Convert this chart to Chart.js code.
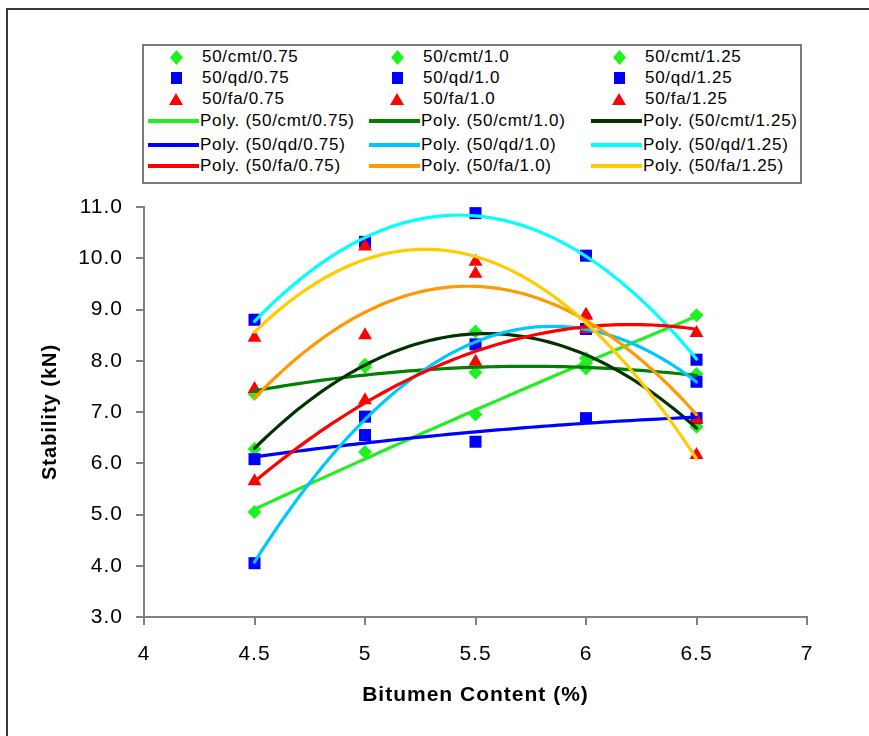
<!DOCTYPE html>
<html>
<head>
<meta charset="utf-8">
<script src="https://cdn.jsdelivr.net/npm/chart.js@4/dist/chart.umd.min.js"></script>
<style>
  html, body { margin: 0; padding: 0; background: #fff; }
  #wrap { position: relative; width: 869px; height: 736px; overflow: hidden; background: #fff; }
  #frame { position: absolute; left: 6px; top: 8px; width: 900px; height: 800px; border: 2px solid #3a3a3a; box-sizing: border-box; }
  #c { position: absolute; left: 0; top: 0; }
  #legend { position: absolute; left: 142px; top: 44px; width: 660px; height: 140px; border: 2px solid #7a7a7a; box-sizing: border-box; background: #fff;
            font-family: "Liberation Sans", Arial, sans-serif; font-size: 17px; letter-spacing: 0.7px; color: #000; }
  .lg-text { position: absolute; white-space: nowrap; line-height: 18px; height: 18px; }
  .lg-mark { position: absolute; }
  .lg-line { position: absolute; height: 4px; }
</style>
</head>
<body>
<div id="wrap">
  <div id="frame"></div>
  <canvas id="c" width="869" height="736"></canvas>
  <div id="legend"></div>
</div>
<script>
// Bitumen content (%) at which specimens were tested
const bitumenContent = [4.5, 5.0, 5.5, 6.0, 6.5];

// Marshall stability (kN) per mix
const stabilityCmt075 = [5.05, 6.22, 6.95, 7.95, 8.89];
const stabilityCmt100 = [7.35, 7.88, 7.77, 7.85, 7.74];
const stabilityCmt125 = [6.28, 7.92, 8.57, 8.05, 6.71];
const stabilityQd075  = [6.08, 6.55, 6.42, 6.88, 6.88];
const stabilityQd100  = [4.05, 6.91, 8.32, 8.62, 7.59];
const stabilityQd125  = [8.80, 10.32, 10.88, 10.05, 8.02];
const stabilityFa075  = [5.65, 7.23, 7.98, 8.88, 8.54];
const stabilityFa100  = [7.45, 8.50, 9.70, 8.90, 6.85];
const stabilityFa125  = [8.45, 10.23, 9.93, 8.62, 6.16];

const seriesNames = ['50/cmt/0.75', '50/cmt/1.0', '50/cmt/1.25',
                     '50/qd/0.75', '50/qd/1.0', '50/qd/1.25',
                     '50/fa/0.75', '50/fa/1.0', '50/fa/1.25'];
const seriesValues = [stabilityCmt075, stabilityCmt100, stabilityCmt125,
                      stabilityQd075, stabilityQd100, stabilityQd125,
                      stabilityFa075, stabilityFa100, stabilityFa125];

// Axis ranges and tick steps
const xMin = 4, xMax = 7, xStep = 0.5;
const yMin = 3, yMax = 11, yStep = 1;

// Styling per filler type
const markerKinds = ['diamond', 'diamond', 'diamond', 'square', 'square', 'square', 'triangle', 'triangle', 'triangle'];
const markerColors = { diamond: '#20f020', square: '#0000ff', triangle: '#ff0000' };
const markerChartStyle = { diamond: ['rectRot', 7], square: ['rect', 8.5], triangle: ['triangle', 8] };
const trendColors = ['#22ee22', '#007f00', '#003300', '#0000ff', '#00c8ff', '#00ffff', '#ff0000', '#ff9900', '#ffcc00'];

// Second-order least-squares fit (Excel "Poly." trendline)
function polyFit2(xs, ys) {
  let s = [0, 0, 0, 0, 0], t = [0, 0, 0];
  for (let i = 0; i < xs.length; i++) {
    let p = 1;
    for (let k = 0; k < 5; k++) { s[k] += p; if (k < 3) t[k] += p * ys[i]; p *= xs[i]; }
  }
  const A = [[s[0], s[1], s[2], t[0]], [s[1], s[2], s[3], t[1]], [s[2], s[3], s[4], t[2]]];
  for (let c = 0; c < 3; c++) {
    for (let r = c + 1; r < 3; r++) {
      const f = A[r][c] / A[c][c];
      for (let k = c; k < 4; k++) A[r][k] -= f * A[c][k];
    }
  }
  const coef = [0, 0, 0];
  for (let r = 2; r >= 0; r--) {
    let v = A[r][3];
    for (let k = r + 1; k < 3; k++) v -= A[r][k] * coef[k];
    coef[r] = v / A[r][r];
  }
  return coef;
}

function trendPoints(xs, ys) {
  const [a, b, c] = polyFit2(xs, ys);
  const lo = xs[0], hi = xs[xs.length - 1], n = 80;
  const pts = [];
  for (let i = 0; i <= n; i++) {
    const x = lo + (hi - lo) * i / n;
    pts.push({ x: x, y: a + b * x + c * x * x });
  }
  return pts;
}

const datasets = [];
seriesNames.forEach((name, i) => {
  const kind = markerKinds[i];
  datasets.push({
    label: name,
    data: bitumenContent.map((x, j) => ({ x: x, y: seriesValues[i][j] })),
    pointStyle: markerChartStyle[kind][0],
    pointRadius: markerChartStyle[kind][1],
    pointHoverRadius: markerChartStyle[kind][1],
    pointBackgroundColor: markerColors[kind],
    pointBorderWidth: 0,
    pointBorderColor: markerColors[kind],
    showLine: false,
    order: 40 - i
  });
});
seriesNames.forEach((name, i) => {
  datasets.push({
    label: 'Poly. (' + name + ')',
    data: trendPoints(bitumenContent, seriesValues[i]),
    showLine: true,
    pointRadius: 0,
    borderColor: trendColors[i],
    borderWidth: 3.2,
    borderJoinStyle: 'round',
    borderCapStyle: 'round',
    fill: false,
    tension: 0,
    order: 20 - i
  });
});

// Slightly wider text tracking for all canvas labels
const tracking = {
  id: 'tracking',
  beforeLayout(chart) { chart.ctx.letterSpacing = '1px'; },
  beforeDraw(chart) { chart.ctx.letterSpacing = '1px'; }
};

const axisGray = '#808080';
const fontFamily = '"Liberation Sans", Arial, sans-serif';
new Chart(document.getElementById('c'), {
  type: 'scatter',
  data: { datasets: datasets },
  plugins: [tracking],
  options: {
    responsive: false,
    animation: false,
    events: [],
    layout: { padding: { left: 10, right: 62, top: 207, bottom: 0 } },
    plugins: { legend: { display: false }, tooltip: { enabled: false } },
    scales: {
      x: {
        type: 'linear', min: xMin, max: xMax,
        ticks: { stepSize: xStep, color: '#000', padding: 17, maxRotation: 0,
                 callback: (v) => String(Number(v)),
                 font: { family: fontFamily, size: 21 } },
        grid: { drawOnChartArea: false, drawTicks: true, tickLength: 8, color: axisGray, lineWidth: 2 },
        border: { color: axisGray, width: 2 },
        title: { display: true, text: 'Bitumen Content (%)', color: '#000', padding: { top: 0, bottom: 28 },
                 font: { family: fontFamily, size: 21, weight: 'bold' } },
        afterFit(scale) { scale.height = 119; }
      },
      y: {
        type: 'linear', min: yMin, max: yMax,
        ticks: { stepSize: yStep, color: '#000', padding: 13,
                 callback: (v) => Number(v).toFixed(1),
                 font: { family: fontFamily, size: 21 } },
        grid: { drawOnChartArea: false, drawTicks: true, tickLength: 8, color: axisGray, lineWidth: 2 },
        border: { color: axisGray, width: 2 },
        title: { display: true, text: 'Stability (kN)', color: '#000', padding: { top: 28, bottom: 0 },
                 font: { family: fontFamily, size: 20, weight: 'bold' } },
        afterFit(scale) { scale.width = 134; }
      }
    }
  }
});

// Legend: three columns, markers on the first three rows, trendlines on the last three
const legend = document.getElementById('legend');
const colOffset = [0, 221, 443];
const markerRowY = [11, 32, 53];
const lineRowY = [75, 99, 120];
function markerSvg(kind, color) {
  if (kind === 'diamond') return '<svg width="13" height="15"><polygon points="6.5,0 13,7.5 6.5,15 0,7.5" fill="' + color + '"/></svg>';
  if (kind === 'square') return '<svg width="11" height="12"><rect x="0" y="0" width="11" height="12" fill="' + color + '"/></svg>';
  return '<svg width="14" height="12"><polygon points="7,0 14,12 0,12" fill="' + color + '"/></svg>';
}
seriesNames.forEach((name, i) => {
  const row = Math.floor(i / 3), col = i % 3, kind = markerKinds[i];
  const cx = colOffset[col];
  const m = document.createElement('div');
  m.className = 'lg-mark';
  m.innerHTML = markerSvg(kind, markerColors[kind]);
  const w = kind === 'diamond' ? 13 : (kind === 'square' ? 11 : 14);
  const h = kind === 'diamond' ? 15 : 12;
  m.style.left = (32 + cx - w / 2) + 'px';
  m.style.top = (markerRowY[row] - h / 2) + 'px';
  m.style.lineHeight = '0';
  legend.appendChild(m);
  const t = document.createElement('div');
  t.className = 'lg-text';
  t.textContent = name;
  t.style.left = (58 + cx) + 'px';
  t.style.top = (markerRowY[row] - 9) + 'px';
  legend.appendChild(t);

  const ln = document.createElement('div');
  ln.className = 'lg-line';
  ln.style.background = trendColors[i];
  ln.style.left = (4 + cx) + 'px';
  ln.style.width = '51px';
  ln.style.top = (lineRowY[row] - 2) + 'px';
  legend.appendChild(ln);
  const lt = document.createElement('div');
  lt.className = 'lg-text';
  lt.textContent = 'Poly. (' + name + ')';
  lt.style.left = (56 + cx) + 'px';
  lt.style.top = (lineRowY[row] - 9) + 'px';
  legend.appendChild(lt);
});
</script>
</body>
</html>
